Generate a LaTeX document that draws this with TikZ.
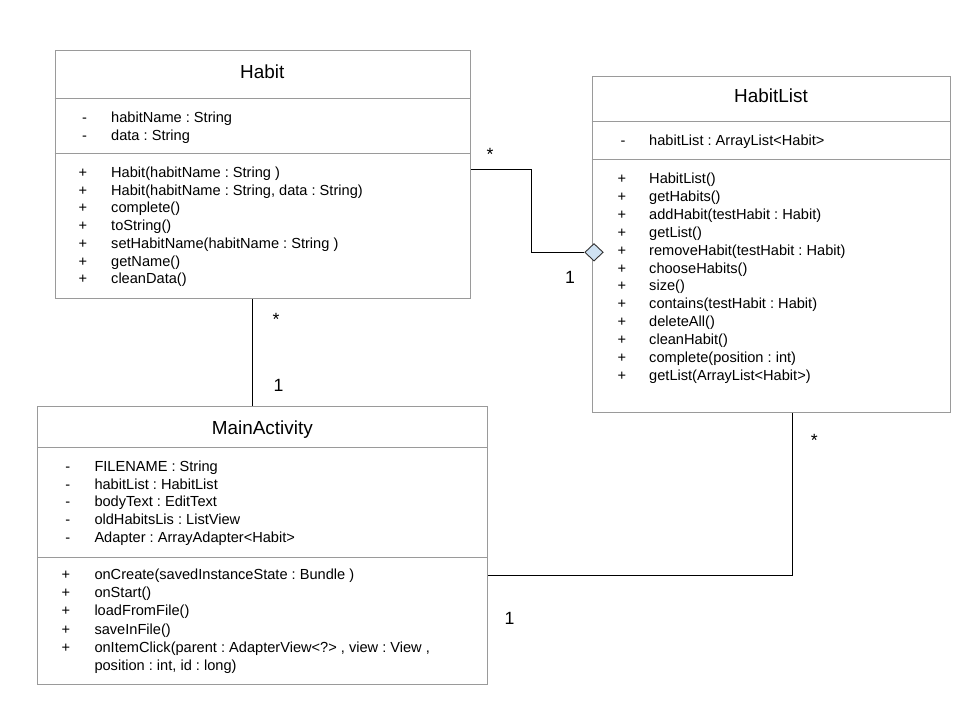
\documentclass[tikz,border=0pt]{standalone}
\usepackage{fontspec}
\setmainfont{Liberation Sans}
\usetikzlibrary{shapes.geometric}
\definecolor{boxline}{HTML}{9A9A9A}
\definecolor{aggfill}{HTML}{CFE2F3}
\frenchspacing
\begin{document}
\begin{tikzpicture}[x=1pt,y=-1pt,
  classbox/.style={draw=boxline, line width=1pt, anchor=north west, inner sep=0pt, fill=white},
  sepline/.style={draw=boxline, line width=1pt},
  conn/.style={draw=black, line width=1pt},
  title/.style={anchor=base, inner sep=0pt, font=\fontsize{18.9}{22}\selectfont},
  member/.style={anchor=base west, inner sep=0pt, font=\fontsize{14.6}{17.8}\selectfont},
  sym/.style={anchor=base, inner sep=0pt, font=\fontsize{14.6}{17.8}\selectfont},
  mult/.style={anchor=base, inner sep=0pt, font=\fontsize{17.7}{20}\selectfont},
  agg/.style={diamond, draw=black!80, fill=aggfill, line width=0.9pt, inner sep=0pt,
              minimum width=18.5pt, minimum height=17.5pt}]
\useasboundingbox[fill=white] (0,0) rectangle (960,720);

% ---------- Habit ----------
\node[classbox, minimum width=415.3pt, minimum height=248.5pt] (habit) at (54.7,49.5) {};
\draw[sepline] (54.7,98.3) -- (470,98.3);
\draw[sepline] (54.7,153.3) -- (470,153.3);
\node[title] (habit-t) at (262.3,78.6) {Habit};
\foreach \t [count=\i] in {{habitName : String},{data : String}} {
  \node[sym] (habit-as\i) at (84.5,{117.3+(\i-1)*17.8+5.2}) {-};
  \node[member] (habit-a\i) at (111,{117.3+(\i-1)*17.8+5.2}) {\t};
}
\foreach \t [count=\i] in {{Habit(habitName : String )},{Habit(habitName : String, data : String)},{complete()},{toString()},{setHabitName(habitName : String )},{getName()},{cleanData()}} {
  \node[sym] (habit-ms\i) at (83,{172.3+(\i-1)*17.7+5.2}) {+};
  \node[member] (habit-m\i) at (111,{172.3+(\i-1)*17.7+5.2}) {\t};
}

% ---------- HabitList ----------
\node[classbox, minimum width=358.6pt, minimum height=336.6pt] (hlist) at (591.7,75.7) {};
\draw[sepline] (591.7,121.7) -- (950.3,121.7);
\draw[sepline] (591.7,159.3) -- (950.3,159.3);
\node[title] (hlist-t) at (771,102.7) {HabitList};
\node[sym] (hlist-as1) at (623,{140.7+5.2}) {-};
\node[member] (hlist-a1) at (649,{140.7+5.2}) {habitList : ArrayList<Habit>};
\foreach \t [count=\i] in {{HabitList()},{getHabits()},{addHabit(testHabit : Habit)},{getList()},{removeHabit(testHabit : Habit)},{chooseHabits()},{size()},{contains(testHabit : Habit)},{deleteAll()},{cleanHabit()},{complete(position : int)},{getList(ArrayList<Habit>)}} {
  \node[sym] (hlist-ms\i) at (622,{178.3+(\i-1)*17.9+5.2}) {+};
  \node[member] (hlist-m\i) at (649,{178.3+(\i-1)*17.9+5.2}) {\t};
}

% ---------- MainActivity ----------
\node[classbox, minimum width=450pt, minimum height=278pt] (main) at (37.3,406) {};
\draw[sepline] (37.3,447.3) -- (487.3,447.3);
\draw[sepline] (37.3,557) -- (487.3,557);
\node[title] (main-t) at (262.3,434.7) {MainActivity};
\foreach \t [count=\i] in {{FILENAME : String},{habitList : HabitList},{bodyText : EditText},{oldHabitsLis : ListView},{Adapter : ArrayAdapter<Habit>}} {
  \node[sym] (main-as\i) at (67.7,{466+(\i-1)*17.8+5.2}) {-};
  \node[member] (main-a\i) at (94.3,{466+(\i-1)*17.8+5.2}) {\t};
}
\foreach \t [count=\i] in {{onCreate(savedInstanceState : Bundle )},{onStart()},{loadFromFile()},{saveInFile()},{onItemClick(parent : AdapterView<?> , view : View ,}} {
  \node[sym] (main-ms\i) at (66,{574.3+(\i-1)*18.2+5.2}) {+};
  \node[member] (main-m\i) at (94.3,{574.3+(\i-1)*18.2+5.2}) {\t};
}
\node[member] (main-m6) at (94.3,{665.3+5.2}) {position : int, id : long)};

% ---------- Connectors ----------
\node[agg] (agg) at (594,252.3) {};
\draw[conn] (habit.east |- 0,169) -- (531,169) |- (agg.west);
\draw[conn] (habit.south -| 252.5,0) -- (main.north -| 252.5,0);
\draw[conn] (hlist.south -| 792.3,0) |- (main.east |- 0,575.5);

% ---------- Multiplicities ----------
\node[mult] (m1) at (490,160.8) {*};
\node[mult] (m2) at (570,283) {1};
\node[mult] (m3) at (276,325) {*};
\node[mult] (m4) at (278.5,391.3) {1};
\node[mult] (m5) at (814.3,446.8) {*};
\node[mult] (m6) at (509.5,624) {1};
\end{tikzpicture}
\end{document}
